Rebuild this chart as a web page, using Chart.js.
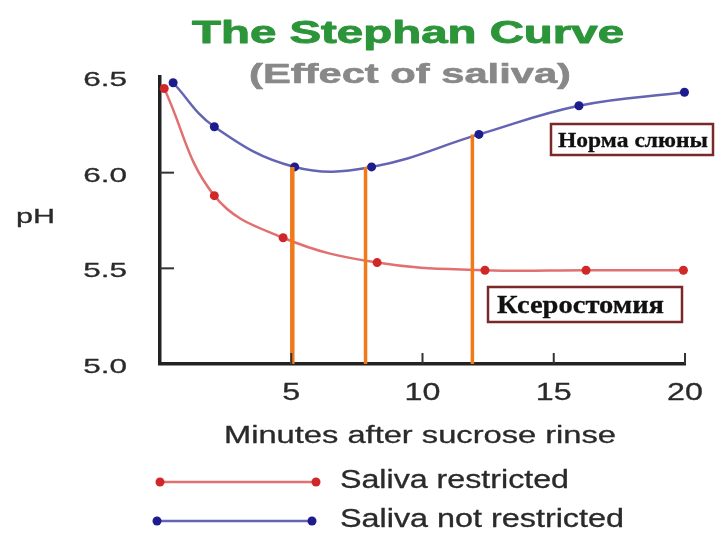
<!DOCTYPE html>
<html>
<head>
<meta charset="utf-8">
<script src="https://cdn.jsdelivr.net/npm/chart.js@4/dist/chart.umd.min.js"></script>
<style>html,body{margin:0;padding:0;background:#fff;}canvas{display:block;}</style>
</head>
<body>
<canvas id="c" width="720" height="540"></canvas>
<script>
// ---- data ----
const restrictedMinutes = [0.16, 2.07, 4.69, 8.27, 12.38, 16.23, 19.94];
const restrictedPH      = [6.44, 5.88, 5.66, 5.53, 5.49, 5.49, 5.49];
const normalMinutes     = [0.50, 2.07, 5.13, 8.06, 12.15, 15.96, 19.98];
const normalPH          = [6.47, 6.24, 6.03, 6.03, 6.20, 6.35, 6.42];
const markerMinutes     = [5.04, 7.83, 11.90];
const markerTopPH       = [6.03, 6.03, 6.20];
const xTicks = [5, 10, 15, 20];
const yTicks = [5.0, 5.5, 6.0, 6.5];
const yTickLabels = ['5.0', '5.5', '6.0', '6.5'];
const seriesNames = ['Saliva restricted', 'Saliva not restricted'];
const titleText = 'The Stephan Curve';
const subtitleText = '(Effect of saliva)';
const xTitle = 'Minutes after sucrose rinse';
const yTitle = 'pH';
const boxNorm = 'Норма слюны';
const boxXero = 'Ксеростомия';

const RED_LINE = '#e27070', RED_PT = '#d02828';
const BLUE_LINE = '#6464b4', BLUE_PT = '#1c1c8e';
const ORANGE = '#f07a1a';

const pts = (xs, ys) => xs.map((x, i) => ({x: x, y: ys[i]}));

const markerSets = markerMinutes.map((m, i) => ({
  data: [{x: m, y: markerTopPH[i]}, {x: m, y: 5.0}],
  showLine: true, pointRadius: 0, borderColor: ORANGE,
  borderWidth: i === 0 ? 4.5 : 3.5, order: 0, clip: false
}));

function stretchText(ctx, s, font, color, x, y, align, width, sx, sw) {
  ctx.save();
  ctx.font = font; ctx.fillStyle = color; ctx.strokeStyle = color;
  ctx.textBaseline = 'alphabetic'; ctx.textAlign = 'left';
  const m = ctx.measureText(s).width;
  const k = width ? width / m : sx;
  const w = m * k;
  const x0 = align === 'center' ? x - w / 2 : (align === 'right' ? x - w : x);
  ctx.translate(x0, y); ctx.scale(k, 1); ctx.fillText(s, 0, 0);
  if (sw) { ctx.lineWidth = sw; ctx.lineJoin = 'round'; ctx.strokeText(s, 0, 0); }
  ctx.restore();
}

const decor = {
  id: 'decor',
  afterDraw(chart) {
    const ctx = chart.ctx, xs = chart.scales.x, ys = chart.scales.y;
    const left = chart.chartArea.left, bottom = chart.chartArea.bottom;
    // inner tick marks
    ctx.save();
    ctx.strokeStyle = '#333'; ctx.lineWidth = 2;
    xTicks.forEach(v => {
      const px = xs.getPixelForValue(v);
      ctx.beginPath(); ctx.moveTo(px, bottom); ctx.lineTo(px, bottom - 11); ctx.stroke();
    });
    yTicks.forEach(v => {
      if (v === 5.0 || v === 6.5) return;
      const py = ys.getPixelForValue(v);
      ctx.beginPath(); ctx.moveTo(left, py); ctx.lineTo(left + 14, py); ctx.stroke();
    });
    ctx.restore();
    // tick labels
    const sans = '"Liberation Sans", Arial, sans-serif';
    const ink = '#2a2a2a';
    yTicks.forEach((v, i) => {
      stretchText(ctx, yTickLabels[i], '21px ' + sans, ink, 127, ys.getPixelForValue(v) + 9, 'right', 0, 1.5, 0.3);
    });
    xTicks.forEach(v => {
      stretchText(ctx, String(v), '23px ' + sans, ink, xs.getPixelForValue(v), 400, 'center', 0, 1.4, 0.3);
    });
    // axis titles
    stretchText(ctx, xTitle, '23px ' + sans, ink, 420, 443, 'center', 392, 0, 0.3);
    stretchText(ctx, yTitle, '21px ' + sans, ink, 16, 223, 'left', 39, 0, 0.3);
    // titles
    stretchText(ctx, titleText, 'bold 31px ' + sans, '#2c953a', 408, 43, 'center', 432, 0, 0.9);
    stretchText(ctx, subtitleText, 'bold 27px ' + sans, '#888888', 410, 83, 'center', 322, 0, 0.6);
    // annotation boxes
    const serif = '"Liberation Serif", "DejaVu Serif", serif';
    ctx.save();
    ctx.fillStyle = '#fff'; ctx.strokeStyle = '#7a2828'; ctx.lineWidth = 2.5;
    ctx.fillRect(551, 124, 162, 31); ctx.strokeRect(551, 124, 162, 31);
    ctx.fillRect(488, 287, 194, 35); ctx.strokeRect(488, 287, 194, 35);
    ctx.restore();
    stretchText(ctx, boxNorm, 'bold 21px ' + serif, '#111', 558, 147, 'left', 150, 0, 0.3);
    stretchText(ctx, boxXero, 'bold 25px ' + serif, '#111', 497, 313, 'left', 167, 0, 0.3);
    // legend
    const leg = [
      {y: 482, x1: 160, x2: 316, line: RED_LINE, pt: RED_PT, ty: 488, w: 229},
      {y: 521, x1: 157, x2: 312, line: BLUE_LINE, pt: BLUE_PT, ty: 527, w: 284}
    ];
    leg.forEach((l, i) => {
      ctx.save();
      ctx.strokeStyle = l.line; ctx.lineWidth = 2.5;
      ctx.beginPath(); ctx.moveTo(l.x1, l.y); ctx.lineTo(l.x2, l.y); ctx.stroke();
      ctx.fillStyle = l.pt;
      [l.x1, l.x2].forEach(px => { ctx.beginPath(); ctx.arc(px, l.y, 4.5, 0, Math.PI * 2); ctx.fill(); });
      ctx.restore();
      stretchText(ctx, seriesNames[i], '25px ' + sans, ink, 340, l.ty, 'left', l.w, 0, 0.3);
    });
  }
};

new Chart(document.getElementById('c'), {
  type: 'scatter',
  data: {
    datasets: [
      ...markerSets,
      {label: seriesNames[0], data: pts(restrictedMinutes, restrictedPH), showLine: true, tension: 0.4,
       borderColor: RED_LINE, borderWidth: 2.5, pointRadius: 4.5, pointBackgroundColor: RED_PT,
       pointBorderColor: RED_PT, pointBorderWidth: 0, order: 1, clip: false},
      {label: seriesNames[1], data: pts(normalMinutes, normalPH), showLine: true, tension: 0.4,
       borderColor: BLUE_LINE, borderWidth: 2.5, pointRadius: 4.5, pointBackgroundColor: BLUE_PT,
       pointBorderColor: BLUE_PT, pointBorderWidth: 0, order: 1, clip: false}
    ]
  },
  options: {
    responsive: false, animation: false, devicePixelRatio: 1,
    layout: {padding: {left: 160, top: 77, right: 35, bottom: 176}},
    plugins: {legend: {display: false}, tooltip: {enabled: false}, title: {display: false}},
    events: [],
    scales: {
      x: {type: 'linear', min: 0, max: 20,
          ticks: {display: false, stepSize: 5},
          grid: {display: false, drawTicks: false},
          border: {display: true, color: '#222', width: 3.5},
          afterFit(s) { s.height = 0; }},
      y: {type: 'linear', min: 5.0, max: 6.5,
          ticks: {display: false, stepSize: 0.5},
          grid: {display: false, drawTicks: false},
          border: {display: true, color: '#222', width: 3.5},
          afterFit(s) { s.width = 0; }}
    }
  },
  plugins: [decor]
});
</script>
</body>
</html>
